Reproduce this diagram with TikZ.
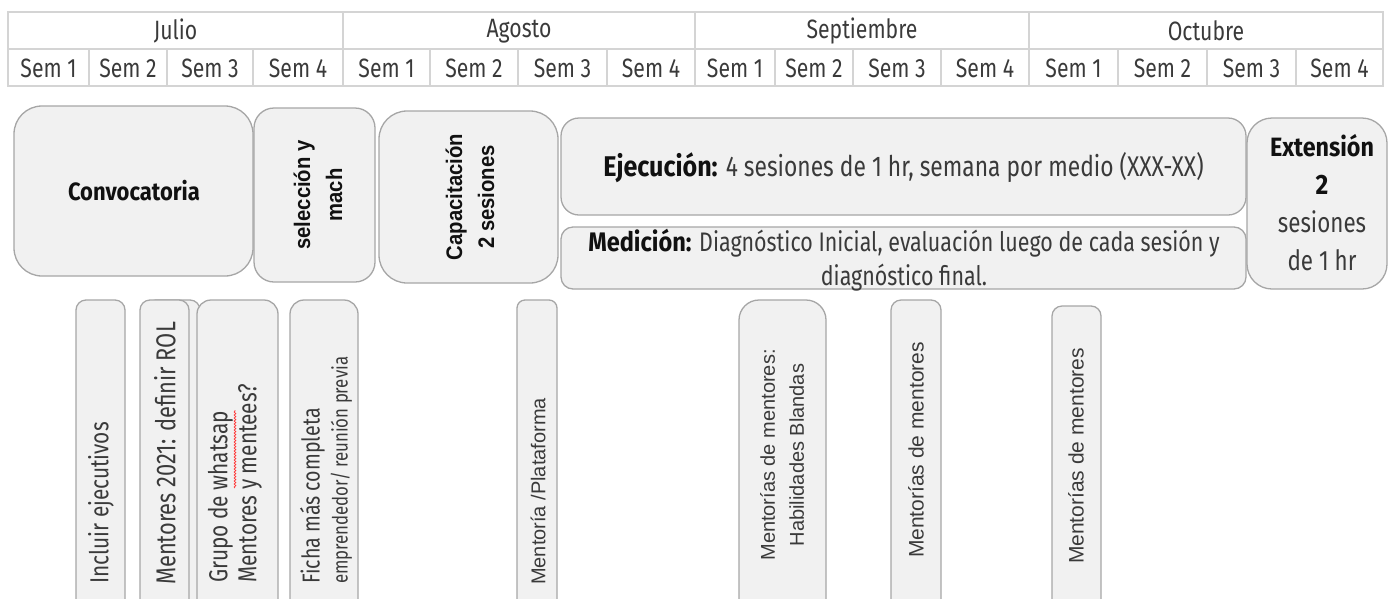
\documentclass[tikz,border=0pt]{standalone}
\usepackage{fontspec}
\setmainfont{Fira Sans}[FakeStretch=0.8,BoldFeatures={FakeStretch=0.88}]
\newfontfamily\arialf{Liberation Sans}
\newfontfamily\arialn{Liberation Sans}[FakeStretch=0.9]
\usetikzlibrary{decorations.pathmorphing}
\definecolor{boxfill}{HTML}{F1F1F1}
\definecolor{boxline}{HTML}{A6A6A6}
\definecolor{gridline}{HTML}{D4D4D4}
\definecolor{txt}{HTML}{3A3A3A}
\definecolor{btxt}{HTML}{111111}
\begin{document}
\begin{tikzpicture}[x=1pt,y=-1pt,
  box/.style={draw=boxline,fill=boxfill,line width=1.3pt,inner sep=0pt},
  grid/.style={draw=gridline,line width=1.5pt},
  hdr/.style={font=\fontsize{26.5}{28}\selectfont,text=txt,inner sep=0pt},
  vtext/.style={rotate=90,anchor=west,align=left,inner sep=0pt,text=txt},
  vctext/.style={rotate=90,anchor=center,align=center,inner sep=0pt,text=txt}]
\useasboundingbox (0,0) rectangle (1388,598);
\clip (0,0) rectangle (1388,598);
% ---------- header table ----------
\draw[grid] (8,12) rectangle (1383,86);
\draw[grid] (8,49) -- (1383,49);
\foreach \x in {343,695,1029}{\draw[grid] (\x,12) -- (\x,86);}
\foreach \x in {89,167,253,430,518,607,775,853,941,1118,1207,1296}{\draw[grid] (\x,49) -- (\x,86);}
\node[hdr] (m1) at (175.5,31) {Julio};
\node[hdr] (m2) at (519,31) {Agosto};
\node[hdr] (m3) at (862,31) {Septiembre};
\node[hdr] (m4) at (1206,31) {Octubre};
\foreach \c/\n [count=\i] in {48.5/1,128/2,210/3,298/4,386.5/1,474/2,562.5/3,651/4,735/1,814/2,897/3,985/4,1073.5/1,1162.5/2,1251.5/3,1339.5/4}{
  \node[hdr] (s\i) at (\c,68) {Sem \n};
}
% ---------- top boxes ----------
\node[box,rounded corners=28pt,minimum width=239pt,minimum height=170pt] (conv) at (133.5,191) {};
\node[text=btxt,font=\fontsize{25}{30}\selectfont\bfseries] (convt) at (134,191) {Convocatoria};
\node[box,rounded corners=20pt,minimum width=121pt,minimum height=174pt] (sel) at (314.5,195) {};
\node[vctext,text=btxt,font=\arialn\fontsize{22.5}{32}\selectfont\bfseries] (selt) at (318,195) {selección y\\mach};
\node[box,rounded corners=28pt,minimum width=179pt,minimum height=172pt] (cap) at (468.5,197) {};
\node[vctext,text=btxt,font=\arialn\fontsize{22.5}{32}\selectfont\bfseries] (capt) at (470,197) {Capacitación\\2 sesiones};
\node[box,rounded corners=18pt,minimum width=685pt,minimum height=97pt] (eje) at (903.5,166.5) {};
\node[text=txt,font=\fontsize{28.5}{28}\selectfont,inner sep=0pt] (ejet) at (903.5,168) {{\color{btxt}\bfseries Ejecución:} 4 sesiones de 1 hr, semana por medio (XXX-XX)};
\node[box,rounded corners=12pt,minimum width=685pt,minimum height=62pt] (med) at (903.5,258) {};
\node[text=txt,font=\fontsize{26.8}{34}\selectfont,align=center,inner sep=0pt] (medt) at (904,260) {{\color{btxt}\bfseries Medición:} Diagnóstico Inicial, evaluación luego de cada sesión y\\diagnóstico final.};
\node[box,rounded corners=25pt,minimum width=140pt,minimum height=171pt] (ext) at (1317,203.5) {};
\node[text=txt,font=\fontsize{28}{38}\selectfont,align=center,inner sep=0pt] (extt) at (1322,203) {{\color{btxt}\fontsize{26.5}{38}\selectfont\bfseries Extensión}\\{\color{btxt}\bfseries 2}\\sesiones\\de 1 hr};
% ---------- bottom boxes ----------
\node[box,rounded corners=10pt,minimum width=49pt,minimum height=340pt] (b1) at (100.5,470) {};
\node[vtext,font=\fontsize{26}{28}\selectfont] (b1t) at (101,584) {Incluir ejecutivos};
\node[box,rounded corners=10pt,minimum width=54pt,minimum height=340pt] (b2b) at (173,470) {};
\node[box,rounded corners=10pt,minimum width=49pt,minimum height=340pt] (b2) at (164.5,470) {};
\node[vtext,font=\fontsize{27.3}{28}\selectfont] (b2t) at (165,585) {Mentores 2021: definir ROL};
\node[box,rounded corners=14pt,minimum width=81pt,minimum height=340pt] (b3) at (237.5,470) {};
\node[vtext,font=\fontsize{26}{29}\selectfont] (b3t) at (235,583) {Grupo de whatsap\\Mentores y mentees?};
\node[box,rounded corners=14pt,minimum width=68pt,minimum height=340pt] (b4) at (324,470) {};
\node[vtext,font=\fontsize{21}{28}\selectfont] (b4t) at (326,584) {{\fontsize{24.5}{28}\selectfont Ficha más completa}\\emprendedor/ reunión previa};
\node[box,rounded corners=8pt,minimum width=40pt,minimum height=340pt] (b5) at (537,470) {};
\node[vtext,font=\arialf\fontsize{20}{24}\selectfont] (b5t) at (538,585) {Mentoría /Plataforma};
\node[box,rounded corners=20pt,minimum width=87pt,minimum height=340pt] (b6) at (782.5,470) {};
\node[vctext,font=\arialf\fontsize{20}{29}\selectfont] (b6t) at (782,455) {Mentorías de mentores:\\Habilidades Blandas};
\node[box,rounded corners=10pt,minimum width=50pt,minimum height=340pt] (b7) at (916,470) {};
\node[vctext,font=\arialf\fontsize{21}{24}\selectfont] (b7t) at (916,450) {Mentorías de mentores};
\node[box,rounded corners=10pt,minimum width=49pt,minimum height=334pt] (b8) at (1076.5,473) {};
\node[vctext,font=\arialf\fontsize{21}{24}\selectfont] (b8t) at (1076,456) {Mentorías de mentores};
% spell-check squiggle
\draw[red!80,line width=0.7pt,decorate,decoration={snake,amplitude=0.9pt,segment length=3pt}] (235,488) -- (235,410);
\end{tikzpicture}
\end{document}
